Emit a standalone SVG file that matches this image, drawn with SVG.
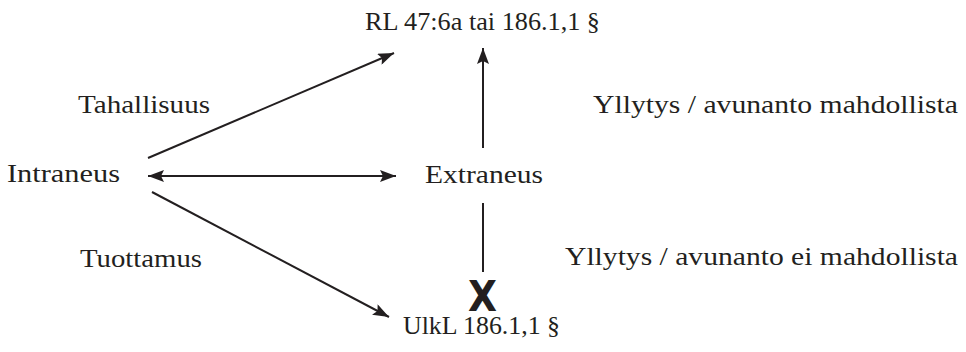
<svg xmlns="http://www.w3.org/2000/svg" width="966" height="352" viewBox="0 0 966 352">
  <style>
    .t { font-family: "Liberation Serif", "DejaVu Serif", serif; font-size: 25px; fill: #231f20; }
    .ln { stroke: #231f20; stroke-width: 2; fill: none; }
    .x { font-family: "DejaVu Sans", "Liberation Sans", sans-serif; font-weight: bold; font-size: 42px; fill: #231f20; }
  </style>
  <defs>
    <marker id="ah" markerUnits="userSpaceOnUse" markerWidth="18" markerHeight="12" refX="16" refY="6" orient="auto-start-reverse" viewBox="0 0 18 12">
      <path d="M0,0 L16,6 L0,12 L3,6 Z" fill="#231f20"/>
    </marker>
  </defs>
  <rect width="966" height="352" fill="#ffffff"/>

  <g id="connectors">
    <line class="ln" x1="148" y1="158" x2="394" y2="53" marker-end="url(#ah)"/>
    <line class="ln" x1="148" y1="176" x2="396" y2="176" marker-start="url(#ah)" marker-end="url(#ah)"/>
    <line class="ln" x1="152" y1="192" x2="389" y2="317" marker-end="url(#ah)"/>
    <line class="ln" x1="483" y1="148" x2="483" y2="48" marker-end="url(#ah)"/>
    <line class="ln" x1="483" y1="203" x2="483" y2="272"/>
  </g>

  <g id="node-rl">
    <text class="t" x="365" y="30" textLength="235" lengthAdjust="spacingAndGlyphs">RL 47:6a tai 186.1,1 §</text>
  </g>
  <g id="node-intraneus">
    <text class="t" x="7" y="182" textLength="113" lengthAdjust="spacingAndGlyphs">Intraneus</text>
  </g>
  <g id="node-extraneus">
    <text class="t" x="425" y="183" textLength="118" lengthAdjust="spacingAndGlyphs">Extraneus</text>
  </g>
  <g id="node-ulkl">
    <text class="t" x="403" y="334" textLength="157" lengthAdjust="spacingAndGlyphs">UlkL 186.1,1 §</text>
  </g>
  <g id="label-tahallisuus">
    <text class="t" x="78" y="113" textLength="132" lengthAdjust="spacingAndGlyphs">Tahallisuus</text>
  </g>
  <g id="label-tuottamus">
    <text class="t" x="80" y="267" textLength="122" lengthAdjust="spacingAndGlyphs">Tuottamus</text>
  </g>
  <g id="label-mahdollista">
    <text class="t" x="593" y="113" textLength="365" lengthAdjust="spacingAndGlyphs">Yllytys / avunanto mahdollista</text>
  </g>
  <g id="label-ei-mahdollista">
    <text class="t" x="565" y="265" textLength="393" lengthAdjust="spacingAndGlyphs">Yllytys / avunanto ei mahdollista</text>
  </g>
  <g id="cross">
    <text class="x" x="468" y="311" textLength="29" lengthAdjust="spacingAndGlyphs">X</text>
  </g>
</svg>
